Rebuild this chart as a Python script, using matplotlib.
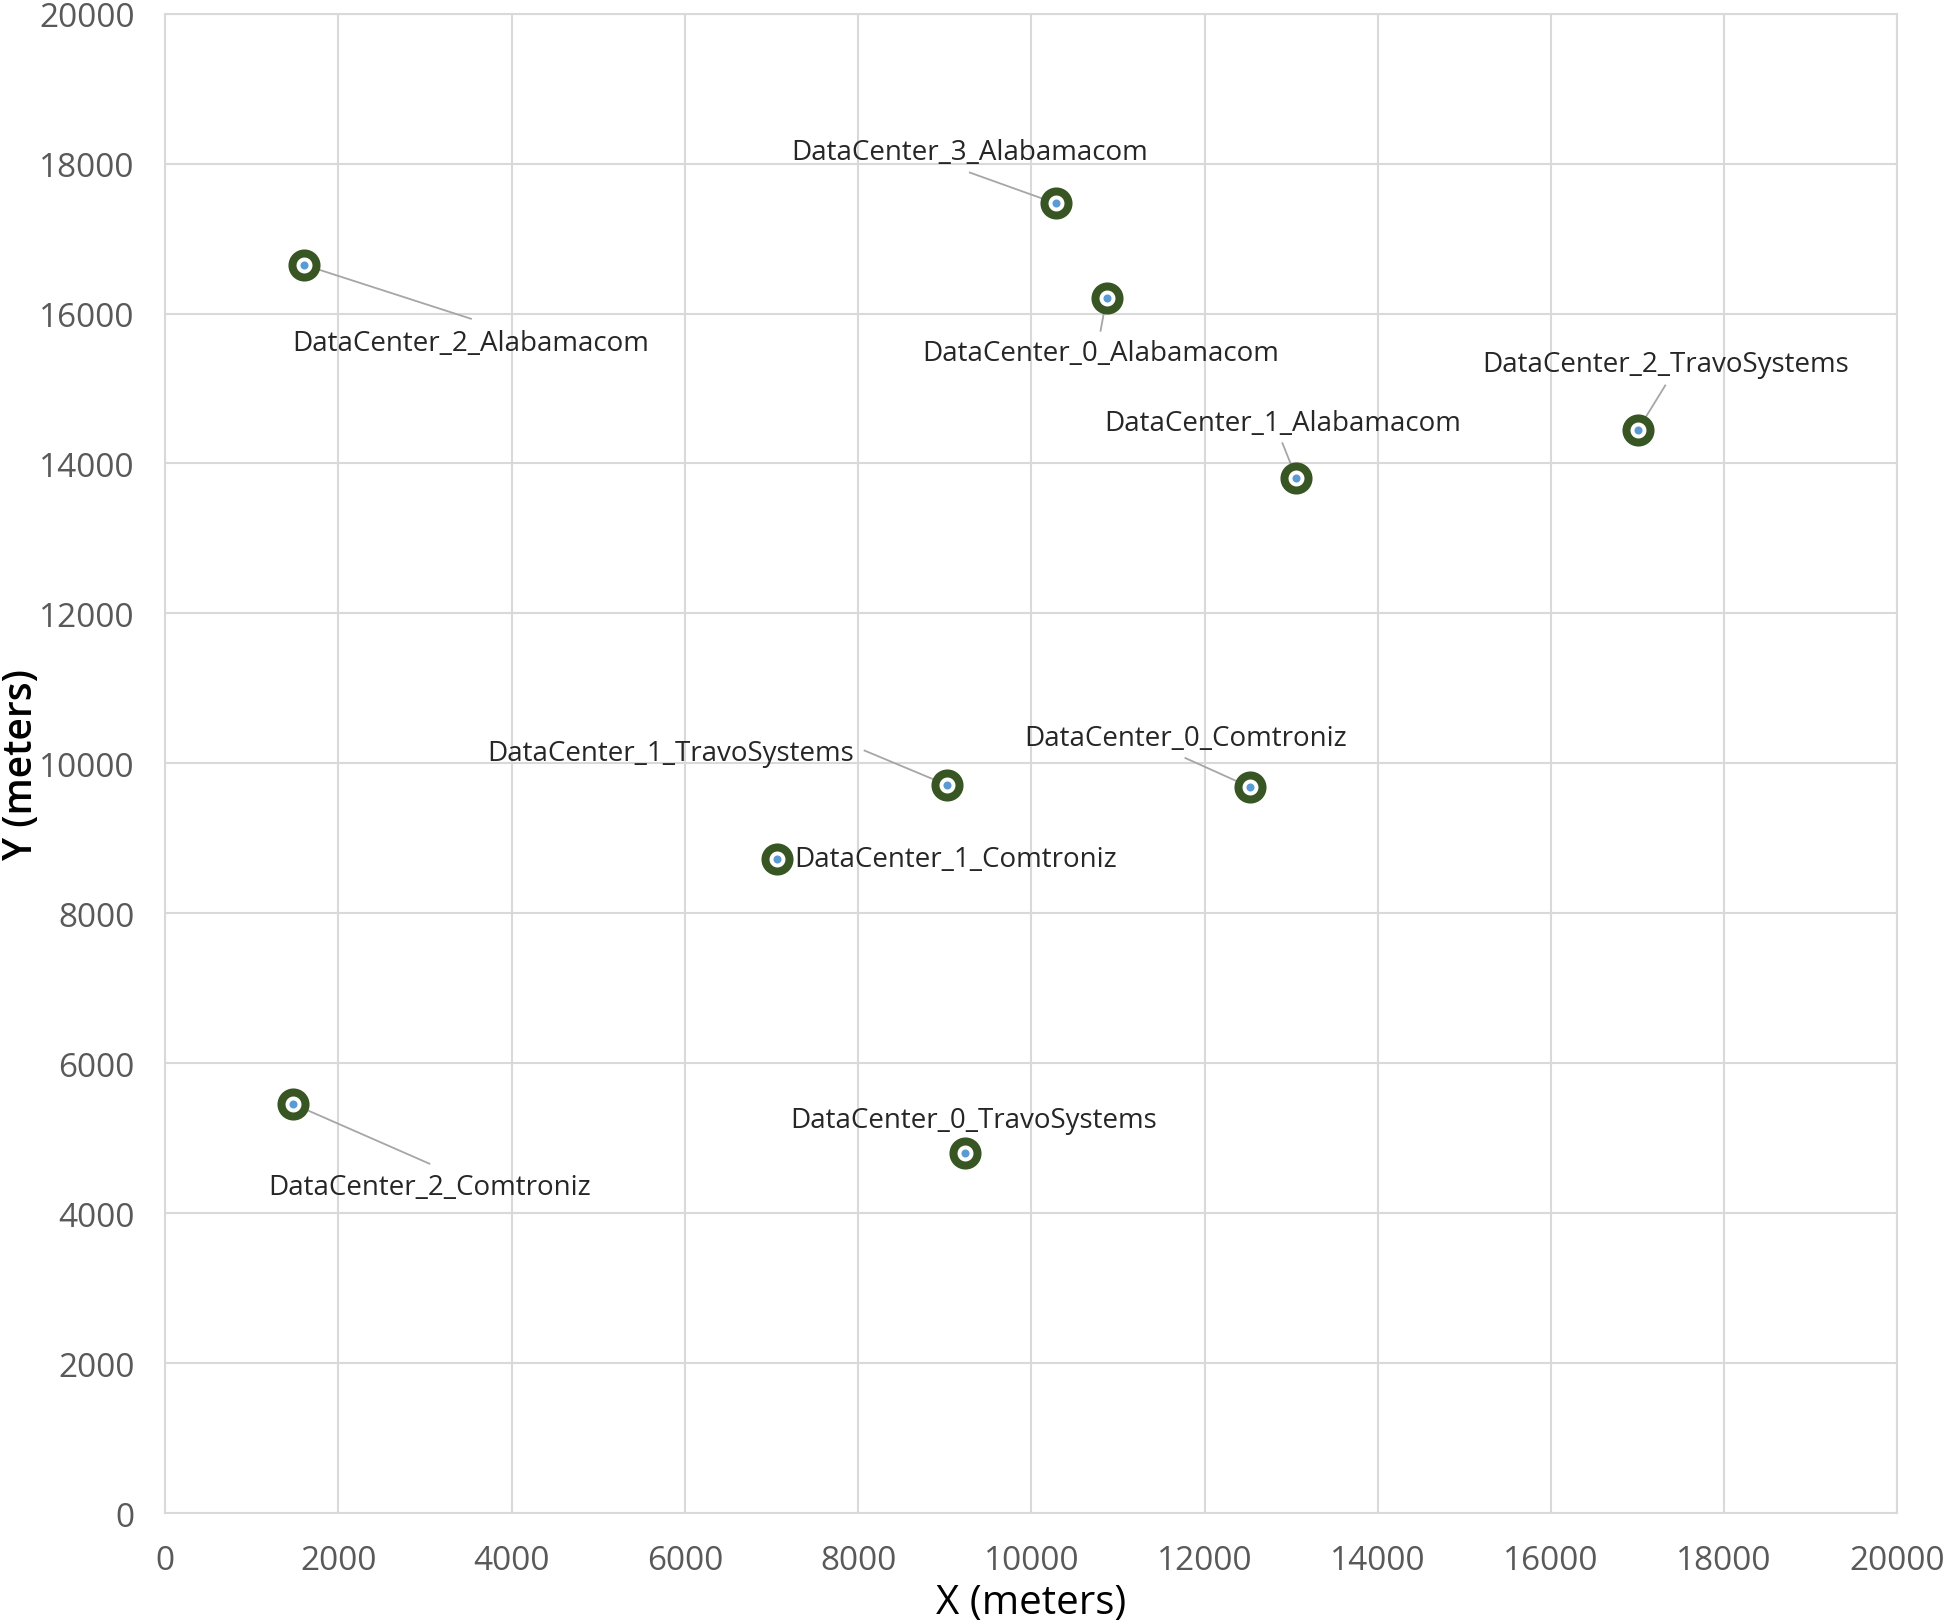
import matplotlib
matplotlib.use("Agg")
import matplotlib.pyplot as plt

names = ["DataCenter_2_Alabamacom", "DataCenter_3_Alabamacom", "DataCenter_0_Alabamacom",
         "DataCenter_1_Alabamacom", "DataCenter_2_TravoSystems", "DataCenter_1_TravoSystems",
         "DataCenter_0_Comtroniz", "DataCenter_1_Comtroniz", "DataCenter_2_Comtroniz",
         "DataCenter_0_TravoSystems"]
x_m = [1600, 10280, 10870, 13060, 17000, 9030, 12530, 7060, 1470, 9230]
y_m = [16650, 17470, 16210, 13810, 14440, 9710, 9680, 8730, 5460, 4800]

# label anchor positions (data units) and leader-line end points
label_x = [3530, 9290, 10800, 12900, 17320, 5840, 11780, 7260, 3050, 9330]
label_y = [15600, 18150, 15470, 14540, 15320, 10140, 10340, 8720, 4350, 5240]
label_ha = ["center", "center", "center", "center", "center", "center", "center", "left", "center", "center"]
leader = [True, True, True, True, True, True, True, False, True, False]
leader_end_x = [3530, 9290, 10800, 12900, 17320, 8075, 11780, None, 3050, None]
leader_end_y = [15930, 17880, 15770, 14270, 15040, 10170, 10070, None, 4660, None]

ticks = list(range(0, 20001, 2000))

plt.rcParams['font.family'] = ['Open Sans', 'DejaVu Sans']
fig = plt.figure(figsize=(19.44, 16.24), dpi=100)
ax = fig.add_axes([0.085, 0.0677, 0.891, 0.9233])
ax.set_xlim(0, 20000)
ax.set_ylim(0, 20000)
ax.set_xticks(ticks)
ax.set_yticks(ticks)
ax.grid(True, color="#D9D9D9", linewidth=1.5)
ax.set_axisbelow(True)
for s in ax.spines.values():
    s.set_color("#D9D9D9")
    s.set_linewidth(1.5)
ax.tick_params(length=0, labelsize=24, labelcolor="#595959")
ax.tick_params(axis="x", pad=22)
ax.tick_params(axis="y", pad=22)

for i in range(len(names)):
    if leader[i]:
        ax.plot([x_m[i], leader_end_x[i]], [y_m[i], leader_end_y[i]], color="#A6A6A6",
                linewidth=1.3, zorder=2)
ax.plot(x_m, y_m, linestyle="none", marker="o", markersize=17.3, markerfacecolor="white",
        markeredgecolor="#375623", markeredgewidth=5.8, zorder=3)
ax.plot(x_m, y_m, linestyle="none", marker="o", markersize=5.8, markerfacecolor="#5B9BD5",
        markeredgewidth=0, zorder=4)
for i in range(len(names)):
    ax.text(label_x[i], label_y[i], names[i], ha=label_ha[i], va="center",
            fontsize=20, color="#262626", zorder=5)

ax.set_xlabel("X (meters)", fontsize=29, color="black", labelpad=4)
ax.set_ylabel("Y (meters)", fontsize=28, color="black", fontweight="semibold")
ax.yaxis.set_label_coords(-0.071, 0.5)

fig.savefig("out.png", dpi=100)
